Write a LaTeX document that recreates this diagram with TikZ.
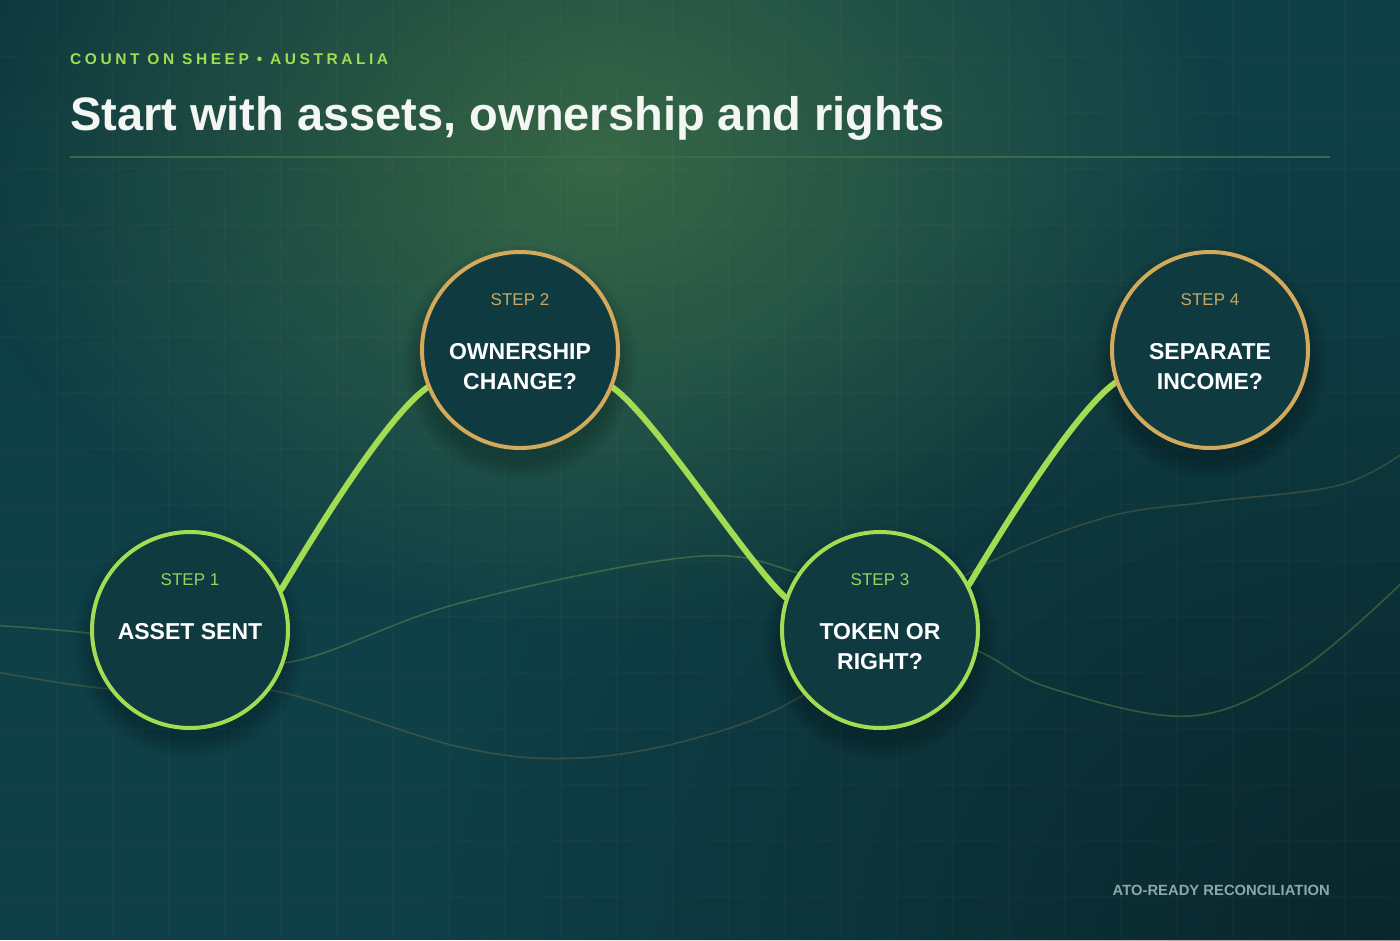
\documentclass[tikz,border=0pt]{standalone}
\usepackage{fontspec}
\setmainfont{Liberation Sans}
\usetikzlibrary{fadings}
\tikzfading[name=softglow, inner color=transparent!0, outer color=transparent!100]
\definecolor{bgc}{HTML}{0F3F47}
\definecolor{glowc}{HTML}{3C6C45}
\definecolor{nodefill}{HTML}{0E3A40}
\definecolor{lime}{HTML}{A2DC52}
\definecolor{limet}{HTML}{98D45A}
\definecolor{gold}{HTML}{D3A95C}
\definecolor{goldt}{HTML}{C9A865}
\definecolor{rulec}{HTML}{3B6A48}
\definecolor{footc}{HTML}{8CA7AA}
\definecolor{titlec}{HTML}{F3F6F3}
\pgfdeclarelayer{back}
\pgfdeclarelayer{mid}
\pgfsetlayers{back,mid,main}
\tikzset{
  stepcircle/.style={circle, minimum size=196pt, inner sep=0pt, line width=4pt, fill=nodefill},
  limecircle/.style={stepcircle, draw=lime},
  goldcircle/.style={stepcircle, draw=gold},
  steplbl/.style={inner sep=0pt, font=\fontsize{17}{20}\selectfont},
  mainlbl/.style={inner sep=0pt, align=center, text=white, font=\fontsize{23}{30}\selectfont\bfseries},
  connector/.style={draw=lime, line width=6pt, line cap=round},
  faintA/.style={draw=lime, opacity=0.26, line width=1.6pt},
  faintB/.style={draw=gold, opacity=0.2, line width=1.6pt},
  gridline/.style={draw=white, opacity=0.022, line width=1pt},
  shadowc/.style={fill=black, opacity=0.045}
}
\begin{document}
\begin{tikzpicture}[x=1pt,y=-1pt]
\useasboundingbox (0,0) rectangle (1400,940);

% circles
\node[limecircle] (c1) at (190,630) {};
\node[goldcircle] (c2) at (520,350) {};
\node[limecircle] (c3) at (880,630) {};
\node[goldcircle] (c4) at (1210,350) {};

\node[steplbl, text=limet] (s1) at (190,580) {STEP 1};
\node[steplbl, text=goldt] (s2) at (520,300) {STEP 2};
\node[steplbl, text=limet] (s3) at (880,580) {STEP 3};
\node[steplbl, text=goldt] (s4) at (1210,300) {STEP 4};

\node[mainlbl] (t1) at (190,632) {ASSET SENT};
\node[mainlbl] (t2) at (520,367) {OWNERSHIP\\CHANGE?};
\node[mainlbl] (t3) at (880,647) {TOKEN OR\\RIGHT?};
\node[mainlbl] (t4) at (1210,367) {SEPARATE\\INCOME?};

% header and footer
\node[anchor=base west, inner sep=0pt, text=lime, font=\fontsize{15.5}{18}\selectfont\bfseries\addfontfeatures{LetterSpace=23}] (kicker) at (70,64) {COUNT ON SHEEP • AUSTRALIA};
\node[anchor=base west, inner sep=0pt, text=titlec, font=\fontsize{47}{54}\selectfont\bfseries] (title) at (70,130.5) {Start with assets, ownership and rights};
\node[anchor=base east, inner sep=0pt, text=footc, font=\fontsize{14.8}{18}\selectfont\bfseries] (footer) at (1330,895) {ATO-READY RECONCILIATION};

\begin{pgfonlayer}{back}
  \begin{scope}
    \clip (0,0) rectangle (1400,940);
    \fill[bgc] (0,0) rectangle (1400,940);
    \fill[glowc, opacity=0.9, path fading=softglow] (600,160) ellipse (640 and 480);
    \fill[black, opacity=0.4, path fading=softglow] (1420,960) ellipse (1000 and 820);
    \fill[black, opacity=0.1, path fading=softglow] (0,0) ellipse (600 and 400);
    \foreach \i in {1,...,24} \draw[gridline] (\i*56,0) -- (\i*56,940);
    \foreach \j in {1,...,16} \draw[gridline] (0,\j*56) -- (1400,\j*56);
    % faint background waves
    \draw[faintA] plot[smooth, tension=0.6] coordinates {(-10,625) (88,633) (190,648) (290,662) (460,603) (690,557) (795,572) (880,612) (980,652) (1050,688) (1190,716) (1300,670) (1410,575)};
    \draw[faintB] plot[smooth, tension=0.6] coordinates {(-10,671) (100,688) (190,690) (280,692) (460,747) (580,758) (700,737) (800,697) (900,620) (990,562) (1107,517) (1207,502) (1340,485) (1410,448)};
  \end{scope}
  \draw[rulec, line width=1.5pt] (70,157) -- (1330,157);
\end{pgfonlayer}

\begin{pgfonlayer}{mid}
  \foreach \cx/\cy in {190/630, 520/350, 880/630, 1210/350}{
    \foreach \r in {100,104,108,112,116}
      \fill[shadowc] (\cx,\cy+12) circle (\r);
  }
  \draw[connector] (c1.24) .. controls +(30,-50) and +(-42,30) .. (c2.202);
  \draw[connector] (c2.338) .. controls +(42,30) and +(-40,-37) .. (c3.161);
  \draw[connector] (c3.27) .. controls +(30,-50) and +(-42,30) .. (c4.199);
\end{pgfonlayer}
\end{tikzpicture}
\end{document}
